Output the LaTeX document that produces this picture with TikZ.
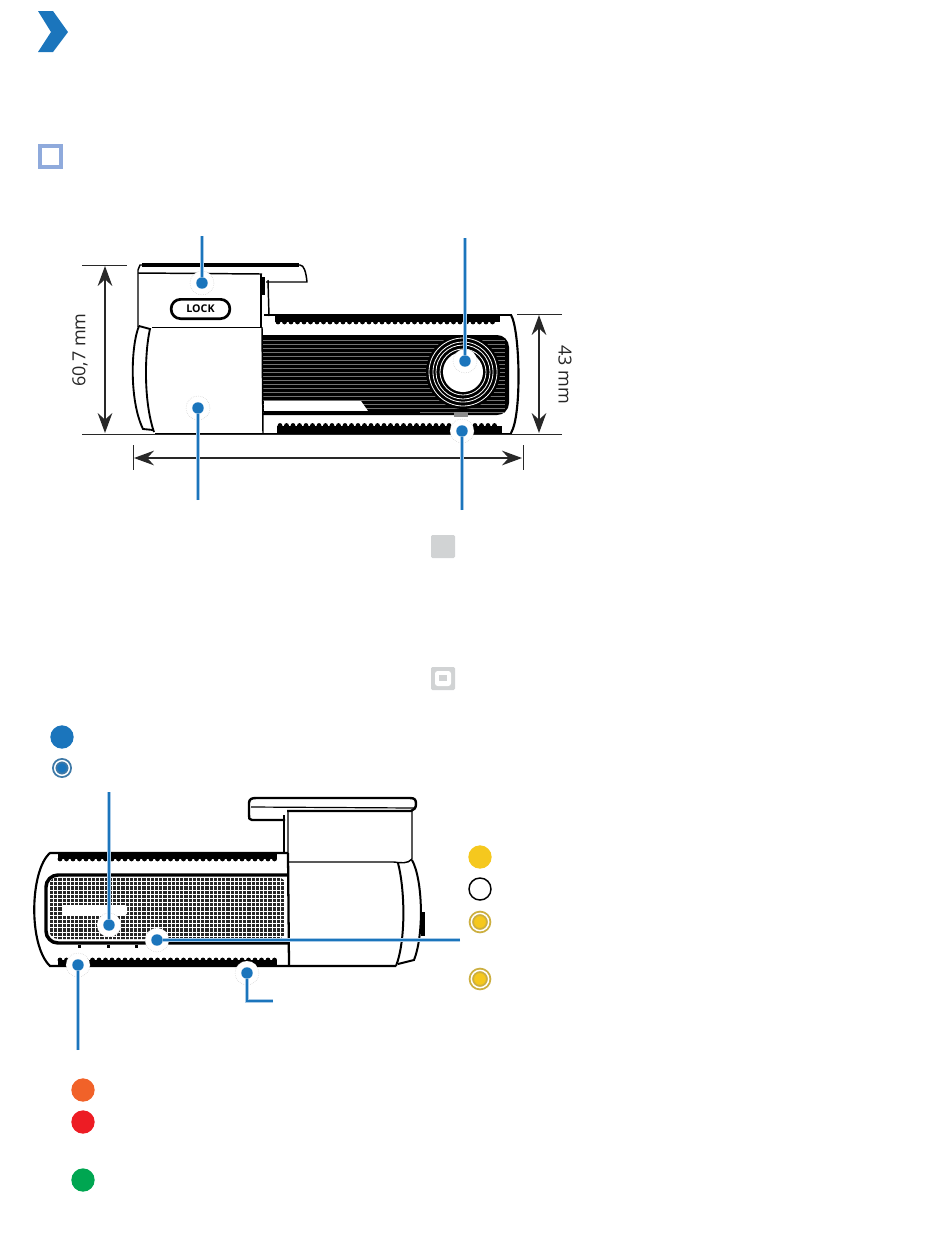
\documentclass[tikz,border=0pt]{standalone}
\usepackage{fontspec}
\setmainfont{Open Sans}
\definecolor{markblue}{RGB}{27,117,188}
\definecolor{paleblue}{RGB}{170,203,232}
\definecolor{boxblue}{RGB}{143,170,220}
\definecolor{boxgray}{RGB}{209,211,212}
\definecolor{ledyellow}{RGB}{245,200,30}
\definecolor{ledorange}{RGB}{241,98,41}
\definecolor{ledred}{RGB}{237,28,36}
\definecolor{ledgreen}{RGB}{0,166,81}
\definecolor{dimgray}{RGB}{40,40,40}
\tikzset{
  halo/.style={circle,fill=white,draw=black!25,densely dotted,line width=0.35pt,minimum size=18pt,inner sep=0pt},
  callout/.style={circle,fill=markblue,minimum size=8.6pt,inner sep=0pt},
  leader/.style={preaction={draw=paleblue,line width=2.9pt},draw=markblue,line width=2.1pt},
  dimline/.style={draw=dimgray,line width=0.7pt},
  dimarrow/.style={draw=dimgray,line width=0.9pt,{Stealth[length=15pt,width=11pt,inset=5pt]}-{Stealth[length=15pt,width=11pt,inset=5pt]}},
  outline/.style={draw=black,line width=1.1pt,line join=round},
  led/.style={circle,minimum size=17.5pt,inner sep=0pt},
  ledring/.style={circle,fill=#1,draw=#1!65!gray,line width=1.4pt,double=white,double distance=1.1pt,minimum size=13pt,inner sep=0pt},
  dimtext/.style={inner sep=0.75pt,font=\fontsize{13.5}{16}\selectfont,text=black!85},
}
\usetikzlibrary{arrows.meta}
\begin{document}
\begin{tikzpicture}[x=0.75pt,y=0.75pt,yscale=-1,xscale=1]
\useasboundingbox (0,0) rectangle (950,1258);

%Header marks
\fill [markblue] (38,11) -- (53,11) -- (68,32) -- (53,52) -- (38,52) -- (51,32) -- cycle ;
\fill [boxblue] (38,144) rectangle (63,169) ;
\fill [white] (42,148) rectangle (59,165) ;

%Front view: dark panel
\fill [black,rounded corners=9pt] (250,335) -- (509,335) -- (509,415) -- (250,415) -- cycle ;
\foreach \y in {340,344,...,412} { \draw [black!55,line width=0.5pt] (263,\y) -- (505,\y) ; }
\fill [white] (264,401) -- (361,401) -- (368,411) -- (264,411) -- cycle ;
\fill [black] (264,411) rectangle (420,415) ;
%Front view: top and bottom bands
\fill [black] (275,315) rectangle (500,322) ;
\foreach \x in {278,284.5,...,498} { \fill [black] (\x,322) circle [radius=2.4] ; }
\fill [black] (277,425.5) rectangle (502,433) ;
\foreach \x in {280,286.5,...,500} { \fill [black] (\x,425.5) circle [radius=2.4] ; }
\draw [outline] (264,315) -- (512,315) ;
\draw [outline] (264,433.5) -- (512,433.5) ;
%Front view: right cap
\draw [line width=1.6pt] (511,315) .. controls (520,330) and (522,415) .. (511,433) ;
%Front view: lens
\fill [black] (463,372) circle [radius=37] ;
\foreach \r in {34,30,27,23} { \draw [white,line width=0.6pt] (463,372) circle [radius=\r] ; }
\fill [white] (463,372) circle [radius=20] ;
\fill [black!45] (454,412) rectangle (468,417) ;

%Front view: mount
\fill [white] (138,268) rectangle (262,327) ;
\fill [white] (150,327) rectangle (263,433) ;
\draw [outline] (138,327) -- (138,270) -- (140,265) -- (300,265) .. controls (304,265) and (306,272) .. (307,282) -- (266,282) ;
\draw [black,line width=2.4pt] (142,265) -- (299,265) ;
\draw [outline] (138,273) -- (262,274) ;
\draw [outline] (261,274) -- (261,327) ;
\draw [outline] (262,327) -- (263,433) ;
\draw [outline] (268,280) -- (269,316) ;
\fill [black] (262,277) rectangle (265,295) ;
\draw [outline] (152,327.5) -- (262,327.5) ;
\draw [outline] (155,433.5) -- (264,433.5) ;
%Front view: left cap
\draw [line width=1.4pt] (139,326) .. controls (131,345) and (129,400) .. (143,429) -- (153,430) ;
\draw [line width=1.4pt] (139,326) -- (150,329) .. controls (145,350) and (143,400) .. (154,432) ;
%LOCK badge
\draw (200.5,309) node (lockbadge) [draw=black,line width=2pt,rounded corners=7pt,minimum width=44pt,minimum height=14.5pt,inner sep=0pt,font=\fontsize{8}{9}\selectfont\bfseries] {LOCK};

%Dimension lines
\draw [dimline] (82,265) -- (127,265) ;
\draw [dimline] (82,434) -- (562,434) ;
\draw [dimline] (517,314) -- (562,314) ;
\draw [dimline] (133,445) -- (133,470) ;
\draw [dimline] (523,445) -- (523,470) ;
\coordinate (heighttop) at (105,266) ;
\coordinate (heightbot) at (105,433) ;
\coordinate (depthtop) at (539,315) ;
\coordinate (depthbot) at (539,433) ;
\coordinate (widthleft) at (134,458) ;
\coordinate (widthright) at (522,458) ;
\draw [dimarrow] (heighttop) -- (heightbot) ;
\draw [dimarrow] (depthtop) -- (depthbot) ;
\draw [dimarrow] (widthleft) -- (widthright) ;
% Text Node
\draw (80,350) node (heightlabel) [rotate=90,dimtext] {60,7 mm};
% Text Node
\draw (565,375) node (depthlabel) [rotate=-90,dimtext] {43 mm};

%Front view: callouts
\draw (202,283) node (lockhalo) [halo] {};
\draw (198,408) node (bodyhalo) [halo] {};
\draw (465,361) node (lenshalo) [halo] {};
\draw (462,431) node (baseshalo) [halo] {};
\coordinate (lockend) at (202,236) ;
\coordinate (bodyend) at (198,500) ;
\coordinate (lensend) at (465,238) ;
\coordinate (baseend) at (462,510) ;
\draw (202,283) node (lockdot) [callout] {};
\draw (198,408) node (bodydot) [callout] {};
\draw (465,361) node (lensdot) [callout] {};
\draw (462,431) node (basedot) [callout] {};
\draw [leader] (lockend) -- (lockdot) ;
\draw [leader] (bodyend) -- (bodydot) ;
\draw [leader] (lensend) -- (lensdot) ;
\draw [leader] (baseend) -- (basedot) ;

%Gray boxes
\fill [boxgray,rounded corners=1pt] (431,535) rectangle (455,558) ;
\fill [boxgray,rounded corners=1pt] (431,667) rectangle (455,690) ;
\fill [white,rounded corners=2pt] (435,671) rectangle (451,686) ;
\fill [boxgray] (439,675) rectangle (447,681) ;

%Blue lights
\draw (62,737) node (bluelight) [led,fill=markblue] {};
\draw (62,768) node (blueblink) [ledring=markblue,minimum size=11pt] {};

%Rear view: panel and mesh
\draw [black,line width=2.6pt,rounded corners=9pt] (288,875) -- (46,875) -- (46,943) -- (288,943) ;
\begin{scope}
\clip [rounded corners=7pt] (49,877) rectangle (286,939) ;
\foreach \x in {50,54.2,...,285} {
  \foreach \y in {878,882.2,...,938} {
    \fill [black!85] (\x,\y) rectangle +(3.2,3.2) ;
  }
}
\end{scope}
\fill [white,rounded corners=1pt] (62,905) rectangle (127,915) ;
%Rear view: body outline and bands
\fill [black] (58,853) rectangle (277,859) ;
\foreach \x in {60,66.5,...,276} { \fill [black] (\x,859) circle [radius=2.4] ; }
\fill [black] (58,960) rectangle (277,966) ;
\foreach \x in {60,66.5,...,276} { \fill [black] (\x,960) circle [radius=2.4] ; }
\draw [line width=1.6pt] (288,853) -- (50,853) .. controls (30,870) and (28,945) .. (50,966) -- (396,966) ;
\foreach \x in {78,107,135} { \fill [black] (\x,945) rectangle +(3,2.5) ; }
\draw [line width=1.7pt] (288,853) -- (289,966) ;
%Rear view: mount
\draw [line width=1.8pt,line join=round] (285,820) -- (252,820) .. controls (249,820) and (249,818) .. (249,815) -- (249,803) .. controls (249,799) and (252,798) .. (256,798) -- (410,798) .. controls (415,798) and (416,800) .. (416,804) .. controls (416,808) and (414,810) .. (411,811) -- (287,811) ;
\draw [line width=0.9pt] (251,807) -- (414,808) ;
\draw [outline] (288,811) -- (288,862) -- (394,862) .. controls (400,863) and (408,864) .. (412,859) -- (412,811) ;
\draw [line width=1.6pt] (284,815) -- (284,853) ;
%Rear view: right cap
\draw [line width=1.5pt] (398,863) .. controls (405,890) and (406,940) .. (396,966) ;
\draw [line width=1.5pt] (412,860) .. controls (423,880) and (424,935) .. (414,960) -- (398,964) ;
\fill [black] (421,912) rectangle (425,936) ;

%Rear view: callouts
\draw (109,925) node (speakerhalo) [halo] {};
\draw (157,940) node (ledhalo) [halo] {};
\draw (78,965) node (gpshalo) [halo] {};
\draw (247,973) node (powerhalo) [halo] {};
\coordinate (speakerend) at (109,792) ;
\coordinate (ledend) at (460,940) ;
\coordinate (gpsend) at (78,1050) ;
\coordinate (powerelbow) at (247,1001) ;
\coordinate (powerend) at (273,1001) ;
\draw (109,925) node (speakerdot) [callout] {};
\draw (157,940) node (leddot) [callout] {};
\draw (78,965) node (gpsdot) [callout] {};
\draw (247,973) node (powerdot) [callout] {};
\draw [leader] (speakerend) -- (speakerdot) ;
\draw [leader] (ledend) -- (leddot) ;
\draw [leader] (gpsend) -- (gpsdot) ;
\draw [leader] (powerend) -- (powerelbow) -- (powerdot) ;

%Yellow lights
\draw (480,857) node (yellowlight) [led,fill=ledyellow] {};
\draw (480,889) node (whitelight) [led,draw=black,line width=1.1pt,fill=white,minimum size=16.5pt] {};
\draw (480,922) node (yellowblink) [ledring=ledyellow] {};
\draw (480,979) node (yellowslow) [ledring=ledyellow] {};

%Status lights
\draw (83,1090) node (orangelight) [led,fill=ledorange] {};
\draw (83,1122) node (redlight) [led,fill=ledred] {};
\draw (83,1180) node (greenlight) [led,fill=ledgreen] {};

\end{tikzpicture}
\end{document}
